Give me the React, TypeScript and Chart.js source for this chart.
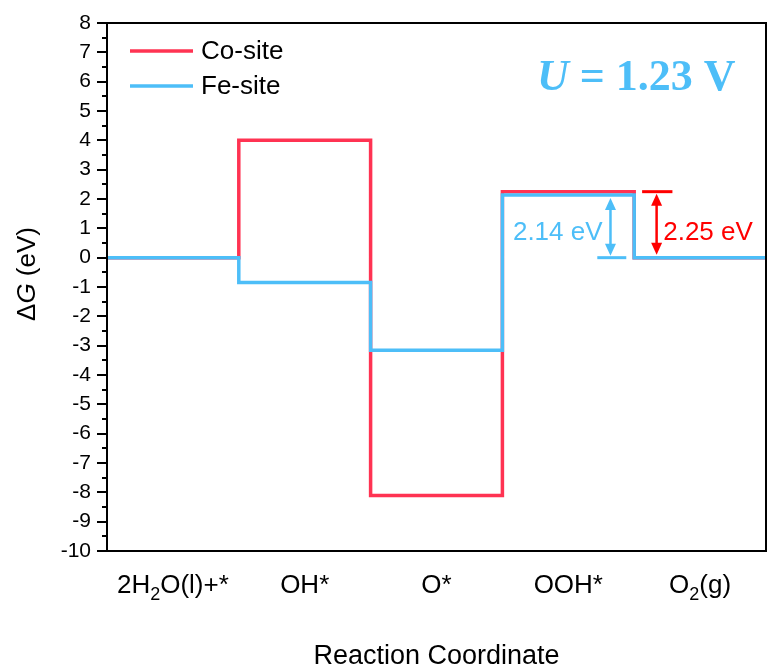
import React, { useEffect, useRef } from 'react';
import { Chart, registerables } from 'chart.js';

Chart.register(...registerables);

// Reaction steps of the OER pathway (₂ is drawn as a real subscript)
const STEPS = ['2H₂O(l)+*', 'OH*', 'O*', 'OOH*', 'O₂(g)'];
// Free energy of each intermediate at U = 1.23 V (eV)
const CO_SITE = [0, 4.0, -8.11, 2.25, 0];
const FE_SITE = [0, -0.85, -3.16, 2.14, 0];
const SERIES_NAMES = ['Co-site', 'Fe-site'];
const Y_MIN = -10;
const Y_MAX = 8;
const POTENTIAL_LABEL = '1.23 V';

const RED = '#FF3352';
const BLUE = '#4DBEF8';
const ARROW_RED = '#FF0000';
const SANS = "'Liberation Sans', Arial, Helvetica, sans-serif";
const SERIF = "'Liberation Serif', 'Times New Roman', serif";

// Each level spans one unit of the x axis: [i, i + 1]
const toSteps = (vals: number[]) =>
  vals.flatMap((v, i) => [
    { x: i, y: v },
    { x: i + 1, y: v },
  ]);

// Draws text with '₂' rendered as a lowered, smaller digit, centred on cx
function drawRich(ctx: CanvasRenderingContext2D, text: string, cx: number, baseY: number, size: number) {
  const parts: { t: string; sub: boolean }[] = [];
  for (const ch of text) {
    const sub = ch === '₂';
    const t = sub ? '2' : ch;
    const last = parts[parts.length - 1];
    if (last && last.sub === sub) last.t += t;
    else parts.push({ t, sub });
  }
  const subSize = Math.round(size * 0.7);
  let total = 0;
  for (const p of parts) {
    ctx.font = `${p.sub ? subSize : size}px ${SANS}`;
    total += ctx.measureText(p.t).width;
  }
  let x = cx - total / 2;
  ctx.textAlign = 'left';
  ctx.textBaseline = 'alphabetic';
  for (const p of parts) {
    ctx.font = `${p.sub ? subSize : size}px ${SANS}`;
    ctx.fillText(p.t, x, p.sub ? baseY + size * 0.28 : baseY);
    x += ctx.measureText(p.t).width;
  }
}

function arrowHead(ctx: CanvasRenderingContext2D, x: number, tipY: number, dir: number) {
  // dir = -1 points up, +1 points down
  const len = 12;
  const half = 5.5;
  ctx.beginPath();
  ctx.moveTo(x, tipY);
  ctx.lineTo(x - half, tipY - dir * len);
  ctx.lineTo(x + half, tipY - dir * len);
  ctx.closePath();
  ctx.fill();
}

function doubleArrow(ctx: CanvasRenderingContext2D, x: number, yTop: number, yBottom: number, color: string) {
  ctx.save();
  ctx.strokeStyle = color;
  ctx.fillStyle = color;
  ctx.lineWidth = 2.5;
  ctx.beginPath();
  ctx.moveTo(x, yTop + 8);
  ctx.lineTo(x, yBottom - 8);
  ctx.stroke();
  arrowHead(ctx, x, yTop + 1, -1);
  arrowHead(ctx, x, yBottom - 1, 1);
  ctx.restore();
}

const decorPlugin = {
  id: 'energyDecor',
  afterDraw(chart: any) {
    const { ctx, chartArea, scales } = chart;
    const { left, right, top, bottom } = chartArea;
    const xs = scales.x;
    const ys = scales.y;
    ctx.save();

    // minor ticks on the energy axis
    ctx.strokeStyle = '#000';
    ctx.lineWidth = 2;
    for (let v = Y_MIN + 0.5; v < Y_MAX; v += 1) {
      const y = Math.round(ys.getPixelForValue(v));
      ctx.beginPath();
      ctx.moveTo(left - 5, y);
      ctx.lineTo(left, y);
      ctx.stroke();
    }

    // frame
    ctx.lineWidth = 2;
    ctx.strokeRect(left, top, right - left, bottom - top);

    // overpotential-determining step markers (OOH* -> O2)
    const y0 = ys.getPixelForValue(0);
    const yCo = ys.getPixelForValue(CO_SITE[3]);
    const yFe = ys.getPixelForValue(FE_SITE[3]);
    const xBlue = xs.getPixelForValue(3.82);
    const xRed = xs.getPixelForValue(4.17);

    ctx.lineWidth = 3;
    ctx.strokeStyle = BLUE;
    ctx.beginPath();
    ctx.moveTo(xs.getPixelForValue(3.72), y0);
    ctx.lineTo(xs.getPixelForValue(3.94), y0);
    ctx.stroke();
    doubleArrow(ctx, xBlue, yFe + 2, y0 - 1, BLUE);

    ctx.strokeStyle = ARROW_RED;
    ctx.lineWidth = 3;
    ctx.beginPath();
    ctx.moveTo(xs.getPixelForValue(4.06), yCo);
    ctx.lineTo(xs.getPixelForValue(4.29), yCo);
    ctx.stroke();
    doubleArrow(ctx, xRed, yCo + 1, y0 - 2, ARROW_RED);

    ctx.font = `26px ${SANS}`;
    ctx.textBaseline = 'middle';
    ctx.fillStyle = BLUE;
    ctx.textAlign = 'right';
    ctx.fillText(`${FE_SITE[3].toFixed(2)} eV`, xs.getPixelForValue(3.76), y0 - 25);
    ctx.fillStyle = ARROW_RED;
    ctx.textAlign = 'left';
    ctx.fillText(`${CO_SITE[3].toFixed(2)} eV`, xs.getPixelForValue(4.22), y0 - 25);

    // step labels under the axis
    ctx.fillStyle = '#000';
    STEPS.forEach((s, i) => {
      drawRich(ctx, s, xs.getPixelForValue(i + 0.5), bottom + 42, 26);
    });

    // axis titles
    ctx.font = `27px ${SANS}`;
    ctx.textAlign = 'center';
    ctx.textBaseline = 'alphabetic';
    ctx.fillText('Reaction Coordinate', (left + right) / 2, 664);

    ctx.save();
    ctx.translate(28, 274);
    ctx.rotate(-Math.PI / 2);
    const pieces = [
      { t: 'Δ', f: `26px ${SANS}` },
      { t: 'G', f: `italic 26px ${SANS}` },
      { t: ' (eV)', f: `26px ${SANS}` },
    ];
    let w = 0;
    for (const p of pieces) {
      ctx.font = p.f;
      w += ctx.measureText(p.t).width;
    }
    let px = -w / 2;
    ctx.textAlign = 'left';
    ctx.textBaseline = 'middle';
    for (const p of pieces) {
      ctx.font = p.f;
      ctx.fillText(p.t, px, 0);
      px += ctx.measureText(p.t).width;
    }
    ctx.restore();

    // legend
    const legend = [
      { name: SERIES_NAMES[0], color: RED, y: 51 },
      { name: SERIES_NAMES[1], color: BLUE, y: 86 },
    ];
    legend.forEach((l) => {
      ctx.strokeStyle = l.color;
      ctx.lineWidth = 3.5;
      ctx.beginPath();
      ctx.moveTo(130, l.y);
      ctx.lineTo(193, l.y);
      ctx.stroke();
      ctx.fillStyle = '#000';
      ctx.font = `26px ${SANS}`;
      ctx.textAlign = 'left';
      ctx.textBaseline = 'middle';
      ctx.fillText(l.name, 201, l.y + 1);
    });

    // potential annotation
    ctx.fillStyle = BLUE;
    ctx.textBaseline = 'alphabetic';
    ctx.textAlign = 'left';
    ctx.font = `italic bold 44px ${SERIF}`;
    const uw = ctx.measureText('U').width;
    ctx.fillText('U', 537, 90);
    ctx.font = `bold 44px ${SERIF}`;
    ctx.fillText(` = ${POTENTIAL_LABEL}`, 537 + uw, 90);

    ctx.restore();
  },
};

export default function App() {
  const canvasRef = useRef<HTMLCanvasElement | null>(null);

  useEffect(() => {
    if (!canvasRef.current) return;
    const chart = new Chart(canvasRef.current, {
      type: 'line',
      data: {
        datasets: [
          {
            label: SERIES_NAMES[0],
            data: toSteps(CO_SITE),
            borderColor: RED,
            borderWidth: 3.5,
            pointRadius: 0,
            tension: 0,
            order: 1,
            borderJoinStyle: 'miter',
            borderCapStyle: 'butt',
          },
          {
            label: SERIES_NAMES[1],
            data: toSteps(FE_SITE),
            borderColor: BLUE,
            borderWidth: 3.5,
            pointRadius: 0,
            tension: 0,
            order: 0,
            borderJoinStyle: 'miter',
            borderCapStyle: 'butt',
          },
        ],
      },
      options: {
        animation: false,
        responsive: false,
        devicePixelRatio: 1,
        layout: { padding: { top: 23, right: 1, bottom: 120, left: 0 } },
        plugins: { legend: { display: false }, tooltip: { enabled: false } },
        scales: {
          x: { type: 'linear', min: 0, max: STEPS.length, display: false },
          y: {
            min: Y_MIN,
            max: Y_MAX,
            ticks: {
              stepSize: 1,
              autoSkip: false,
              color: '#000',
              padding: 6,
              font: { size: 21, family: SANS },
            },
            grid: {
              drawOnChartArea: false,
              drawTicks: true,
              tickLength: 10,
              color: '#000',
              lineWidth: 2,
            },
            border: { display: false },
            afterFit: (scale: any) => {
              scale.width = 107;
            },
          },
        },
      },
      plugins: [decorPlugin],
    } as any);
    return () => chart.destroy();
  }, []);

  return (
    <div style={{ position: 'fixed', left: 0, top: 0, width: 767, height: 671, background: '#fff' }}>
      <canvas ref={canvasRef} width={767} height={671} style={{ display: 'block' }} />
    </div>
  );
}
